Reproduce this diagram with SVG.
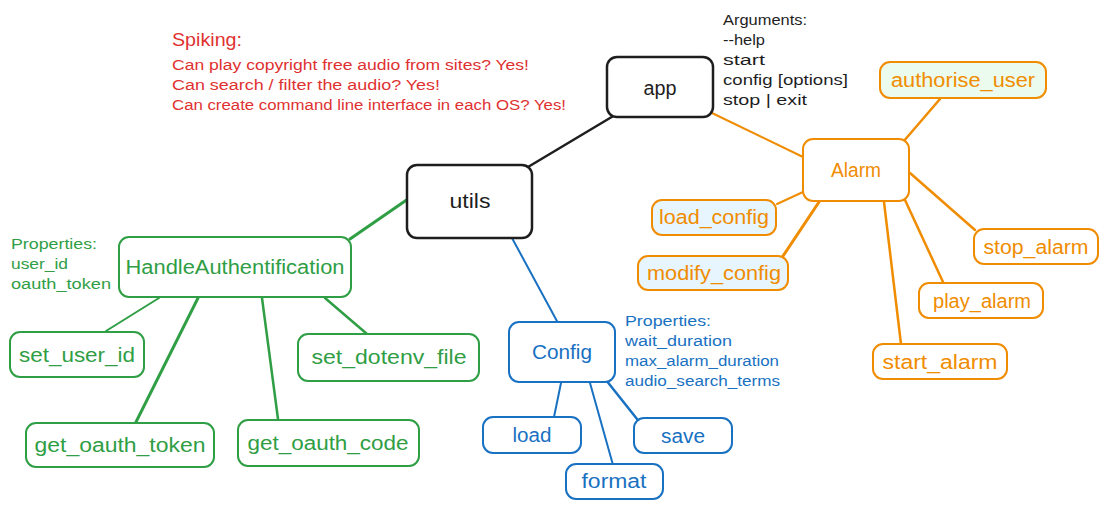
<svg xmlns="http://www.w3.org/2000/svg" width="1108" height="509" viewBox="0 0 1108 509">
<style>
text{font-family:"Liberation Sans","DejaVu Sans",sans-serif;}
.lbl{font-size:20px;text-anchor:middle;}
.note{font-size:15.5px;}
.box{stroke-width:2;rx:10;ry:10;}
.k{stroke:#1e1e1e;fill:#ffffff;} .kt{fill:#1e1e1e;}
.g{stroke:#2f9e44;fill:#ffffff;} .gt{fill:#2f9e44;}
.b{stroke:#1971c2;fill:#ffffff;} .bt{fill:#1971c2;}
.o{stroke:#f08c00;fill:#ffffff;} .ot{fill:#f08c00;}
.lc line{stroke-linecap:round;fill:none;}
</style>
<rect width="1108" height="509" fill="#ffffff"/>
<g id="spiking-note" fill="#e03131">
<text x="172" y="46" style="font-size:19px" textLength="70" lengthAdjust="spacingAndGlyphs">Spiking:</text>
<text class="note" x="172" y="70" textLength="357" lengthAdjust="spacingAndGlyphs">Can play copyright free audio from sites? Yes!</text>
<text class="note" x="172" y="90" textLength="268" lengthAdjust="spacingAndGlyphs">Can search / filter the audio? Yes!</text>
<text class="note" x="172" y="110" textLength="394" lengthAdjust="spacingAndGlyphs">Can create command line interface in each OS? Yes!</text>
</g>
<g id="connectors" class="lc">
<line x1="528" y1="167" x2="615" y2="115" stroke="#1e1e1e" stroke-width="2.5"/>
<line x1="408" y1="199" x2="350" y2="239" stroke="#2f9e44" stroke-width="3"/>
<line x1="159" y1="298" x2="106" y2="331" stroke="#2f9e44" stroke-width="2"/>
<line x1="198" y1="298" x2="136" y2="422" stroke="#2f9e44" stroke-width="3"/>
<line x1="262" y1="298" x2="278" y2="419" stroke="#2f9e44" stroke-width="2.5"/>
<line x1="325" y1="298" x2="367" y2="334" stroke="#2f9e44" stroke-width="2.5"/>
<line x1="512" y1="238" x2="558" y2="323" stroke="#1971c2" stroke-width="2"/>
<line x1="561" y1="383" x2="554" y2="417" stroke="#1971c2" stroke-width="2"/>
<line x1="590" y1="383" x2="613" y2="465" stroke="#1971c2" stroke-width="2"/>
<line x1="606" y1="380" x2="637" y2="419" stroke="#1971c2" stroke-width="2.5"/>
<line x1="712" y1="113" x2="803" y2="157" stroke="#f08c00" stroke-width="2"/>
<line x1="903" y1="142" x2="940" y2="99" stroke="#f08c00" stroke-width="2.5"/>
<line x1="803" y1="192" x2="777" y2="204" stroke="#f08c00" stroke-width="2"/>
<line x1="819" y1="202" x2="783" y2="256" stroke="#f08c00" stroke-width="3"/>
<line x1="910" y1="173" x2="975" y2="230" stroke="#f08c00" stroke-width="2.5"/>
<line x1="905" y1="200" x2="943" y2="282" stroke="#f08c00" stroke-width="2.5"/>
<line x1="884" y1="202" x2="901" y2="344" stroke="#f08c00" stroke-width="2.5"/>
</g>
<g id="app"><rect class="box k" x="607" y="57" width="106" height="60" style="stroke-width:2.5"/><text class="lbl kt" x="660" y="95" textLength="33" lengthAdjust="spacingAndGlyphs">app</text></g>
<g id="arguments-note" class="kt">
<text class="note" x="723" y="25" textLength="84" lengthAdjust="spacingAndGlyphs">Arguments:</text>
<text class="note" x="723" y="45" textLength="42" lengthAdjust="spacingAndGlyphs">--help</text>
<text class="note" x="723" y="65" textLength="42" lengthAdjust="spacingAndGlyphs">start</text>
<text class="note" x="723" y="85" textLength="125" lengthAdjust="spacingAndGlyphs">config [options]</text>
<text class="note" x="723" y="105" textLength="84" lengthAdjust="spacingAndGlyphs">stop | exit</text>
</g>
<g id="utils"><rect class="box k" x="407" y="165" width="125" height="73" rx="12" style="stroke-width:2.5"/><text class="lbl kt" x="470" y="208" textLength="41" lengthAdjust="spacingAndGlyphs">utils</text></g>
<g id="handle-auth"><rect class="box g" x="119" y="237" width="232" height="60"/><text class="lbl gt" x="235" y="274" textLength="219" lengthAdjust="spacingAndGlyphs">HandleAuthentification</text></g>
<g id="auth-properties" class="gt">
<text class="note" x="11" y="249" textLength="86" lengthAdjust="spacingAndGlyphs">Properties:</text>
<text class="note" x="11" y="269" textLength="57" lengthAdjust="spacingAndGlyphs">user_id</text>
<text class="note" x="11" y="289" textLength="100" lengthAdjust="spacingAndGlyphs">oauth_token</text>
</g>
<g id="set_user_id"><rect class="box g" x="10" y="332" width="134" height="45"/><text class="lbl gt" x="77" y="362" textLength="116" lengthAdjust="spacingAndGlyphs">set_user_id</text></g>
<g id="set_dotenv_file"><rect class="box g" x="298" y="334" width="181" height="47"/><text class="lbl gt" x="389" y="364" textLength="155" lengthAdjust="spacingAndGlyphs">set_dotenv_file</text></g>
<g id="get_oauth_token"><rect class="box g" x="26" y="423" width="188" height="44"/><text class="lbl gt" x="120" y="452" textLength="171" lengthAdjust="spacingAndGlyphs">get_oauth_token</text></g>
<g id="get_oauth_code"><rect class="box g" x="238" y="420" width="181" height="46"/><text class="lbl gt" x="328" y="450" textLength="161" lengthAdjust="spacingAndGlyphs">get_oauth_code</text></g>
<g id="config"><rect class="box b" x="509" y="322" width="106" height="60"/><text class="lbl bt" x="562" y="359" textLength="60" lengthAdjust="spacingAndGlyphs">Config</text></g>
<g id="config-properties" class="bt">
<text class="note" x="625" y="326" textLength="86" lengthAdjust="spacingAndGlyphs">Properties:</text>
<text class="note" x="625" y="346" textLength="107" lengthAdjust="spacingAndGlyphs">wait_duration</text>
<text class="note" x="625" y="366" textLength="154" lengthAdjust="spacingAndGlyphs">max_alarm_duration</text>
<text class="note" x="625" y="386" textLength="155" lengthAdjust="spacingAndGlyphs">audio_search_terms</text>
</g>
<g id="load"><rect class="box b" x="483" y="417" width="98" height="36"/><text class="lbl bt" x="532" y="442" textLength="39" lengthAdjust="spacingAndGlyphs">load</text></g>
<g id="save"><rect class="box b" x="634" y="418" width="98" height="35"/><text class="lbl bt" x="683" y="443" textLength="44" lengthAdjust="spacingAndGlyphs">save</text></g>
<g id="format"><rect class="box b" x="566" y="464" width="97" height="35"/><text class="lbl bt" x="614" y="488" textLength="65" lengthAdjust="spacingAndGlyphs">format</text></g>
<g id="alarm"><rect class="box o" x="803" y="139" width="106" height="62"/><text class="lbl ot" x="856" y="177" textLength="50" lengthAdjust="spacingAndGlyphs">Alarm</text></g>
<g id="authorise_user"><rect class="box o" x="880" y="62" width="166" height="36" style="fill:#ebfbee"/><text class="lbl ot" x="963" y="87" textLength="144" lengthAdjust="spacingAndGlyphs">authorise_user</text></g>
<g id="load_config"><rect class="box o" x="652" y="200" width="124" height="35" style="fill:#e7f5ff"/><text class="lbl ot" x="714" y="224" textLength="110" lengthAdjust="spacingAndGlyphs">load_config</text></g>
<g id="modify_config"><rect class="box o" x="638" y="256" width="150" height="34" style="fill:#e7f5ff"/><text class="lbl ot" x="714" y="280" textLength="134" lengthAdjust="spacingAndGlyphs">modify_config</text></g>
<g id="stop_alarm"><rect class="box o" x="974" y="229" width="124" height="35"/><text class="lbl ot" x="1036" y="254" textLength="105" lengthAdjust="spacingAndGlyphs">stop_alarm</text></g>
<g id="play_alarm"><rect class="box o" x="919" y="283" width="124" height="35"/><text class="lbl ot" x="982" y="308" textLength="98" lengthAdjust="spacingAndGlyphs">play_alarm</text></g>
<g id="start_alarm"><rect class="box o" x="873" y="344" width="134" height="35"/><text class="lbl ot" x="940" y="369" textLength="115" lengthAdjust="spacingAndGlyphs">start_alarm</text></g>
</svg>
